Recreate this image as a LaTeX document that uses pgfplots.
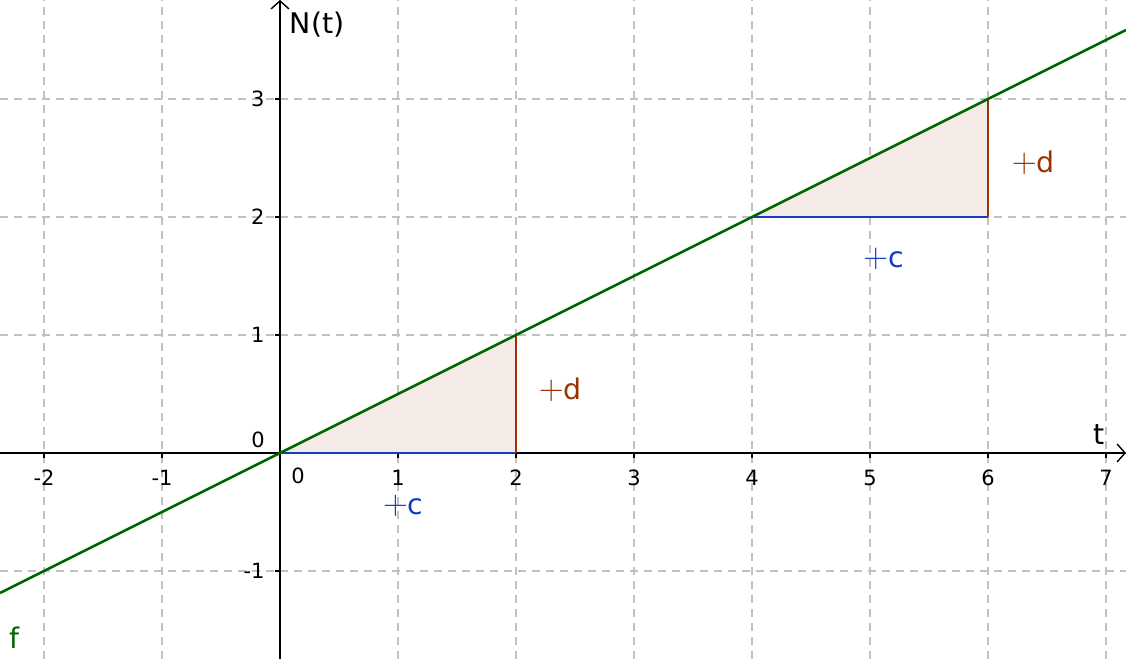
\documentclass[border=0pt]{standalone}
\usepackage{pgfplots}
\pgfplotsset{compat=1.18}
\usepackage{fontspec}
\setmainfont{DejaVu Sans}
\usetikzlibrary{arrows.meta}

\definecolor{ggreen}{RGB}{0,100,0}
\definecolor{gblue}{RGB}{21,59,196}
\definecolor{gbrown}{RGB}{153,51,0}
\definecolor{gfill}{RGB}{244,235,230}
\definecolor{ggrid}{RGB}{192,192,192}

\newcommand{\tickfont}{\fontsize{10.5}{12}\selectfont}
\newcommand{\labfont}{\fontsize{14.2}{16}\selectfont}
\newcommand{\bigplus}{{\fontsize{19}{19}\selectfont$+$}}

\begin{document}
\begin{tikzpicture}
\path[use as bounding box] (0,0) rectangle (563pt,329.5pt);
\clip (0,0) rectangle (563pt,329.5pt);
\begin{axis}[
    anchor=south west, at={(0,0)},
    scale only axis,
    width=563pt, height=329.5pt,
    xmin=-2.373, xmax=7.17,
    ymin=-1.746, ymax=3.839,
    axis lines=middle,
    axis line style={black, line width=0.7pt, -{Straight Barb[length=4pt,width=9pt]}},
    xtick={-2,-1,0,1,2,3,4,5,6,7},
    ytick={-1,0,1,2,3},
    xticklabels={-2,-1,,1,2,3,4,5,6,7},
    yticklabels={-1,,1,2,3},
    hide obscured x ticks=false,
    hide obscured y ticks=false,
    tick align=outside,
    major tick length=2.5pt,
    tick style={black, line width=0.6pt},
    ticklabel style={font=\tickfont, inner sep=1pt},
    xticklabel style={anchor=north, yshift=-5pt},
    yticklabel style={anchor=east, xshift=-4pt},
    grid=major,
    major grid style={ggrid, line width=0.9pt, dash pattern=on 4pt off 3pt},
    clip=false,
]
% shaded triangles
\addplot[fill=gfill, draw=none] coordinates {(0,0) (2,1) (2,0)} -- cycle;
\addplot[fill=gfill, draw=none] coordinates {(4,2) (6,3) (6,2)} -- cycle;
% horizontal steps (c)
\addplot[gblue, line width=1.1pt] coordinates {(0,0) (2,0)};
\addplot[gblue, line width=1.1pt] coordinates {(4,2) (6,2)};
% vertical steps (d)
\addplot[gbrown, line width=1.1pt] coordinates {(2,0) (2,1)};
\addplot[gbrown, line width=1.1pt] coordinates {(6,2) (6,3)};
% f
\addplot[ggreen, line width=1.3pt] coordinates {(-2.373,-1.1865) (7.17,3.585)};

\node[anchor=west, inner sep=0pt, font=\labfont] at (axis cs:0.08,3.63) {N(t)};
\node[inner sep=0pt, font=\labfont] at (axis cs:6.94,0.16) {t};
\node[inner sep=0pt, font=\tickfont] at (axis cs:-0.186,0.11) {0};
\node[inner sep=0pt, font=\tickfont] at (axis cs:0.153,-0.19) {0};
\node[inner sep=0pt, font=\labfont, text=ggreen] at (axis cs:-2.246,-1.568) {f};
\node[anchor=west, inner sep=0pt, font=\labfont, text=gblue] at (axis cs:0.87,-0.45) {\bigplus c};
\node[anchor=west, inner sep=0pt, font=\labfont, text=gblue] at (axis cs:4.94,1.644) {\bigplus c};
\node[anchor=west, inner sep=0pt, font=\labfont, text=gbrown] at (axis cs:2.19,0.534) {\bigplus d};
\node[anchor=west, inner sep=0pt, font=\labfont, text=gbrown] at (axis cs:6.20,2.458) {\bigplus d};
\end{axis}
\end{tikzpicture}
\end{document}
